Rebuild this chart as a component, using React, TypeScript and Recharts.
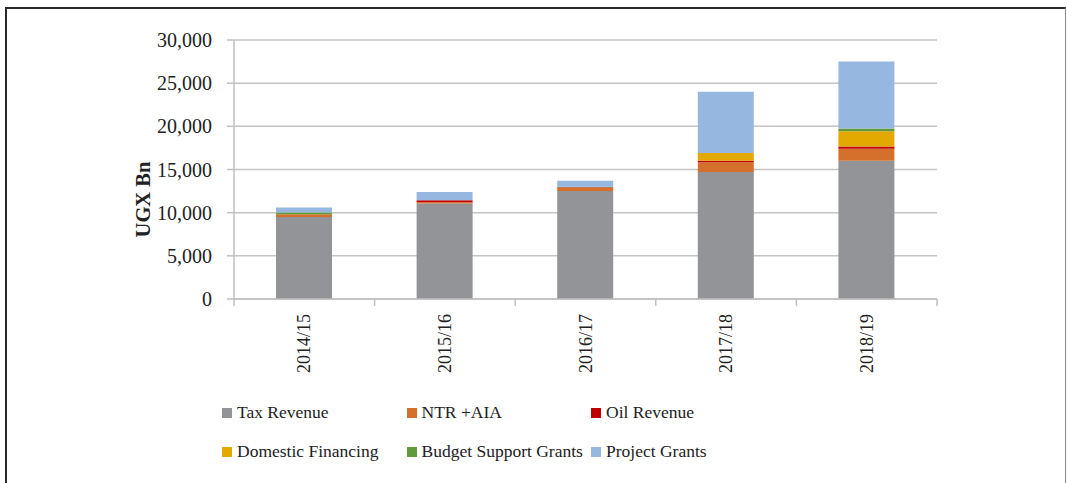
import React from 'react';
import { BarChart, Bar, XAxis, YAxis, CartesianGrid, Legend } from 'recharts';

const categories = ['2014/15', '2015/16', '2016/17', '2017/18', '2018/19'];
const taxRevenue = [9500, 11050, 12500, 14700, 16000];
const ntrAia = [330, 170, 400, 1150, 1400];
const oilRevenue = [0, 230, 50, 150, 270];
const domesticFinancing = [0, 0, 0, 900, 1750];
const budgetSupportGrants = [200, 0, 40, 0, 320];
const projectGrants = [570, 950, 700, 7100, 7780];
const yTicks = [0, 5000, 10000, 15000, 20000, 25000, 30000];

const seriesNames = ['Tax Revenue', 'NTR +AIA', 'Oil Revenue', 'Domestic Financing', 'Budget Support Grants', 'Project Grants'];
const seriesColors = ['#939497', '#D5702C', '#C00000', '#E3A900', '#5F9B3B', '#96B8E0'];
const seriesValues = [taxRevenue, ntrAia, oilRevenue, domesticFinancing, budgetSupportGrants, projectGrants];

const data = categories.map((c, i) => {
  const row: Record<string, any> = { category: c };
  seriesNames.forEach((n, k) => { row['s' + k] = seriesValues[k][i]; });
  return row;
});

const W = 1067;
const H = 483;
const LEFT = 234;
const RIGHT = 130;
const PLOT_W = W - LEFT - RIGHT;
const STEP = PLOT_W / categories.length;
const FONT = '"Liberation Serif", "Times New Roman", serif';

const XTick = (props: any) => {
  const { x, y, payload, index } = props;
  const left = x - STEP / 2;
  return (
    <g>
      <line x1={left} y1={y} x2={left} y2={y + 7} stroke="#bfbfbf" strokeWidth={1.5} />
      {index === categories.length - 1 && (
        <line x1={x + STEP / 2} y1={y} x2={x + STEP / 2} y2={y + 7} stroke="#bfbfbf" strokeWidth={1.5} />
      )}
      <text
        x={x}
        y={y + 15}
        transform={`rotate(-90, ${x}, ${y + 15})`}
        textAnchor="end"
        dominantBaseline="central"
        fontFamily={FONT}
        fontSize={18}
        fill="#222"
      >
        {payload.value}
      </text>
    </g>
  );
};

const YLabel = (props: any) => {
  const vb = props.viewBox || {};
  const cx = 143;
  const cy = vb.y + vb.height / 2 + 30;
  return (
    <text
      x={cx}
      y={cy}
      transform={`rotate(-90, ${cx}, ${cy})`}
      textAnchor="middle"
      dominantBaseline="central"
      fontFamily={FONT}
      fontSize={20.5}
      fontWeight="bold"
      fill="#222"
    >
      UGX Bn
    </text>
  );
};

const LegendContent = (props: any) => {
  const payload = [...(props.payload || [])].sort(
    (a: any, b: any) => seriesNames.indexOf(a.value) - seriesNames.indexOf(b.value)
  );
  return (
    <div
      style={{
        display: 'grid',
        gridTemplateColumns: '184.5px 184.5px 184.5px',
        gridAutoRows: '39px',
        marginLeft: 222,
        fontFamily: FONT,
        fontSize: 17.5,
        color: '#222',
        textAlign: 'left',
      }}
    >
      {payload.map((p: any) => (
        <div key={p.value} style={{ display: 'flex', alignItems: 'center', whiteSpace: 'nowrap' }}>
          <span style={{ display: 'inline-block', width: 10, height: 10, background: p.color, marginRight: 5 }} />
          <span>{p.value}</span>
        </div>
      ))}
    </div>
  );
};

export default function App() {
  return (
    <div style={{ position: 'fixed', left: 0, top: 0, width: W, height: H, background: '#fff' }}>
      <div
        style={{
          position: 'absolute',
          left: 5,
          top: 7,
          width: 1065 - 5 - 2,
          height: H,
          borderLeft: '2px solid #2a2a2a',
          borderTop: '2px solid #2a2a2a',
          borderRight: '1px solid #8a8a8a',
        }}
      />
      <div style={{ position: 'absolute', left: 0, top: 0 }}>
        <BarChart
          width={W}
          height={H}
          data={data}
          margin={{ top: 40, right: RIGHT, left: 0, bottom: 10 }}
          barSize={56}
        >
          <CartesianGrid vertical={false} stroke="#c4c4c4" strokeWidth={1.5} />
          <XAxis
            dataKey="category"
            height={94}
            tickLine={false}
            tickSize={0}
            tickMargin={0}
            axisLine={{ stroke: '#bfbfbf', strokeWidth: 1.5 }}
            tick={<XTick />}
            interval={0}
          />
          <YAxis
            width={LEFT}
            domain={[0, 30000]}
            ticks={yTicks}
            tickFormatter={(v: number) => v.toLocaleString('en-US')}
            tickSize={7}
            tickMargin={15}
            tick={{ fontFamily: FONT, fontSize: 20, fill: '#222' }}
            tickLine={{ stroke: '#bfbfbf', strokeWidth: 1.5 }}
            axisLine={{ stroke: '#bfbfbf', strokeWidth: 1.5 }}
            label={{ content: <YLabel /> }}
          />
          <Legend verticalAlign="bottom" align="left" content={<LegendContent />} wrapperStyle={{ height: 80 }} />
          {seriesNames.map((n, k) => (
            <Bar
              key={n}
              dataKey={'s' + k}
              name={n}
              stackId="a"
              fill={seriesColors[k]}
              isAnimationActive={false}
            />
          ))}
        </BarChart>
      </div>
    </div>
  );
}
